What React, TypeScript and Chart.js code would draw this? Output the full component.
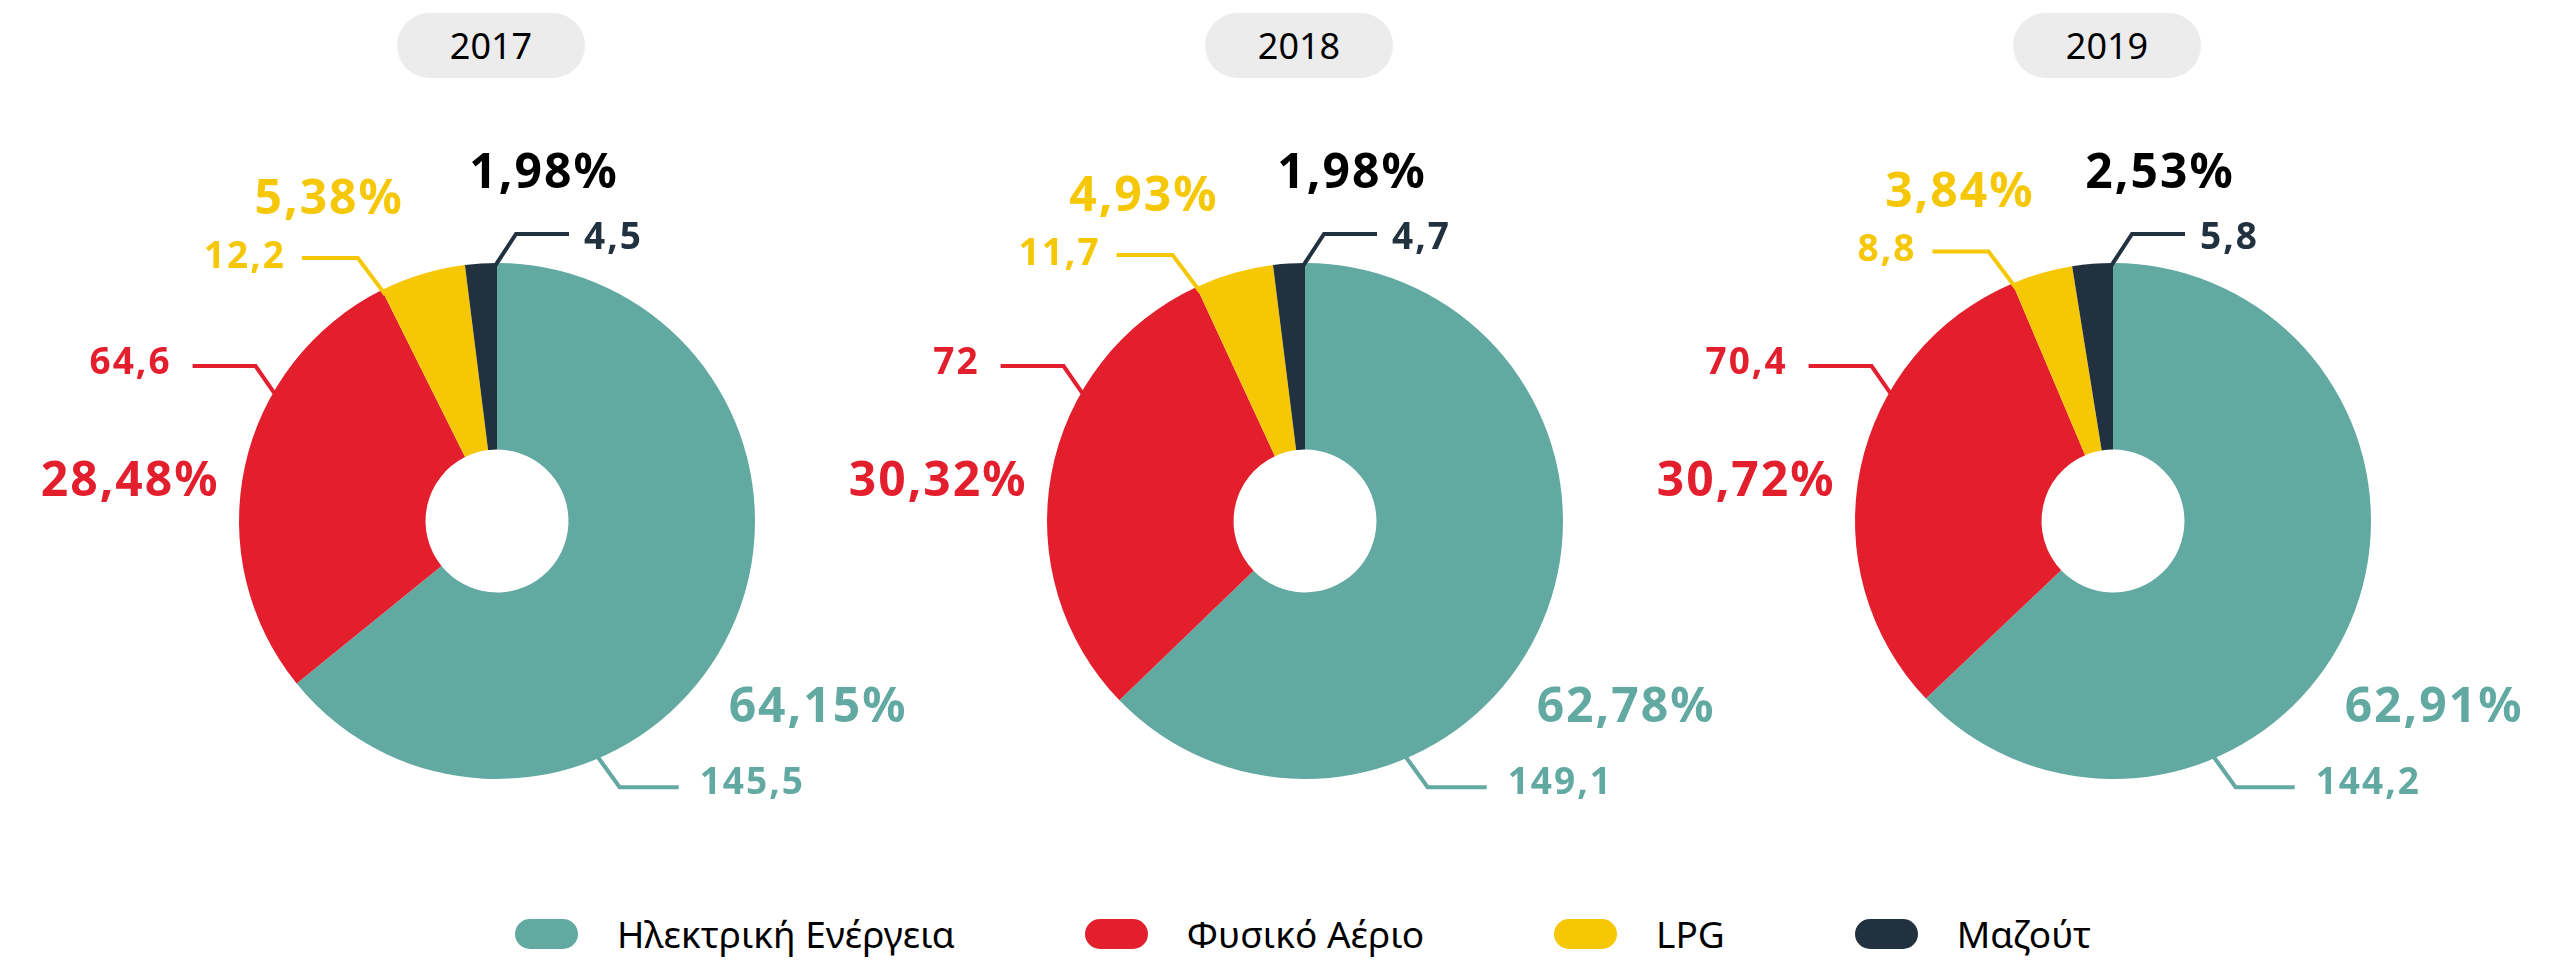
import React, { useEffect, useRef } from "react";
import { Chart, registerables } from "chart.js";

Chart.register(...registerables);

// ---------- data ----------
const categories = ["Ηλεκτρική Ενέργεια", "Φυσικό Αέριο", "LPG", "Μαζούτ"];
const years = ["2017", "2018", "2019"];
const values2017 = [145.5, 64.6, 12.2, 4.5];
const values2018 = [149.1, 72, 11.7, 4.7];
const values2019 = [144.2, 70.4, 8.8, 5.8];
const seriesByYear = [values2017, values2018, values2019];

// ---------- styles ----------
const sliceColors = ["#62A9A2", "#E31F2D", "#F5C705", "#22313F"];
const percentColors = ["#62A9A2", "#E31F2D", "#F5C705", "#000000"];
const FONT = '"Noto Sans", "DejaVu Sans", sans-serif';

type LabelLayout = {
  anchor: "fixed" | "start" | "end";
  compassDeg?: number;
  elbow: [number, number];
  run: number;
  gap: number;
  valueDy: number;
  pctAlign: CanvasTextAlign;
  pctDx: number;
  pctDy: number;
};

const labelLayouts: LabelLayout[] = [
  { anchor: "fixed", compassDeg: 156.8, elbow: [21, 29], run: 59, gap: 21, valueDy: 7, pctAlign: "left", pctDx: 130, pctDy: -36 },
  { anchor: "fixed", compassDeg: 300, elbow: [-18, -26], run: -63, gap: 21, valueDy: 8, pctAlign: "right", pctDx: -54, pctDy: 104 },
  { anchor: "start", elbow: [-24, -32], run: -56, gap: 16, valueDy: 10, pctAlign: "right", pctDx: 22, pctDy: -76 },
  { anchor: "end", elbow: [19, -29], run: 53, gap: 15, valueDy: 15, pctAlign: "center", pctDx: 47, pctDy: -75 },
];

const CHART_W = 1000;
const CHART_H = 780;
const CHART_TOP = 90;
const CENTER_Y = 521;
const RADIUS = 258;
const FIRST_CX = 497;
const STEP = 808;

const fmt = (v: number) => String(v).replace(".", ",");

const leaderPlugin = {
  id: "leaderLabels",
  afterDatasetsDraw(chart: any) {
    const ctx: CanvasRenderingContext2D = chart.ctx;
    const meta = chart.getDatasetMeta(0);
    const data: number[] = chart.data.datasets[0].data;
    const total = data.reduce((a, b) => a + b, 0);
    meta.data.forEach((arc: any, i: number) => {
      const p = arc.getProps(["x", "y", "startAngle", "endAngle", "outerRadius"], true);
      const L = labelLayouts[i];
      let ang: number;
      if (L.anchor === "start") ang = p.startAngle;
      else if (L.anchor === "end") ang = p.endAngle;
      else ang = ((L.compassDeg! - 90) * Math.PI) / 180;
      const ax = p.x + p.outerRadius * Math.cos(ang);
      const ay = p.y + p.outerRadius * Math.sin(ang);
      const ex = ax + L.elbow[0];
      const ey = ay + L.elbow[1];
      const hx = ex + L.run;

      ctx.save();
      ctx.strokeStyle = sliceColors[i];
      ctx.lineWidth = 4;
      ctx.lineJoin = "miter";
      ctx.lineCap = "butt";
      ctx.beginPath();
      ctx.moveTo(ax - L.elbow[0] * 0.15, ay - L.elbow[1] * 0.15);
      ctx.lineTo(ex, ey);
      ctx.lineTo(hx, ey);
      ctx.stroke();

      // value label
      (ctx as any).letterSpacing = "2px";
      ctx.font = `bold 37px ${FONT}`;
      ctx.fillStyle = sliceColors[i];
      ctx.textBaseline = "alphabetic";
      const right = L.run < 0;
      ctx.textAlign = right ? "right" : "left";
      ctx.fillText(fmt(data[i]), right ? hx - L.gap : hx + L.gap, ey + L.valueDy);

      // percent label
      const pct = ((data[i] / total) * 100).toFixed(2).replace(".", ",") + "%";
      (ctx as any).letterSpacing = "2px";
      ctx.font = `bold 48px ${FONT}`;
      ctx.fillStyle = percentColors[i];
      ctx.textAlign = L.pctAlign;
      ctx.fillText(pct, ax + L.pctDx, ay + L.pctDy);
      ctx.restore();
    });
  },
};

function Donut({ values, index }: { values: number[]; index: number }) {
  const ref = useRef<HTMLCanvasElement | null>(null);
  useEffect(() => {
    if (!ref.current) return;
    const side = (CHART_W - 2 * RADIUS) / 2;
    const top = CENTER_Y - RADIUS - CHART_TOP;
    const bottom = CHART_H - top - 2 * RADIUS;
    const chart = new Chart(ref.current, {
      type: "doughnut",
      data: {
        labels: categories,
        datasets: [
          {
            data: values,
            backgroundColor: sliceColors,
            borderWidth: 0,
            hoverOffset: 0,
          },
        ],
      },
      options: {
        responsive: false,
        animation: false,
        cutout: "27.7%",
        layout: { padding: { left: side, right: side, top, bottom } },
        plugins: {
          legend: { display: false },
          tooltip: { enabled: false },
          title: { display: false },
        },
        events: [],
      },
      plugins: [leaderPlugin],
    });
    return () => chart.destroy();
  }, [values]);
  const cx = FIRST_CX + STEP * index;
  return (
    <canvas
      ref={ref}
      width={CHART_W}
      height={CHART_H}
      style={{
        position: "absolute",
        left: cx - CHART_W / 2,
        top: CHART_TOP,
        width: CHART_W,
        height: CHART_H,
      }}
    />
  );
}

export default function App() {
  useEffect(() => {
    document.body.style.margin = "0";
    document.body.style.overflow = "hidden";
  }, []);
  return (
    <div
      style={{
        position: "absolute",
        left: 0,
        top: 0,
        width: 2561,
        height: 967,
        background: "#ffffff",
        overflow: "hidden",
        fontFamily: FONT,
      }}
    >
      {years.map((y, i) => {
        const cx = FIRST_CX + STEP * i - 6;
        return (
          <div
            key={y}
            style={{
              position: "absolute",
              left: cx - 94,
              top: 13,
              width: 188,
              height: 65,
              borderRadius: 33,
              background: "#ECECEC",
              display: "flex",
              alignItems: "center",
              justifyContent: "center",
              fontSize: 36,
              lineHeight: "36px",
              color: "#000",
            }}
          >
            {y}
          </div>
        );
      })}
      {seriesByYear.map((vals, i) => (
        <Donut key={years[i]} values={vals} index={i} />
      ))}
      <div
        style={{
          position: "absolute",
          left: 1303 - 1100,
          width: 2200,
          top: 916,
          height: 36,
          display: "flex",
          justifyContent: "center",
          alignItems: "center",
          gap: 130,
        }}
      >
        {categories.map((c, i) => (
          <div key={c} style={{ display: "flex", alignItems: "center", gap: 39 }}>
            <div
              style={{
                width: 63,
                height: 30,
                borderRadius: 15,
                background: sliceColors[i],
              }}
            />
            <span style={{ fontSize: 37, lineHeight: "36px", color: "#000", whiteSpace: "nowrap" }}>{c}</span>
          </div>
        ))}
      </div>
    </div>
  );
}
